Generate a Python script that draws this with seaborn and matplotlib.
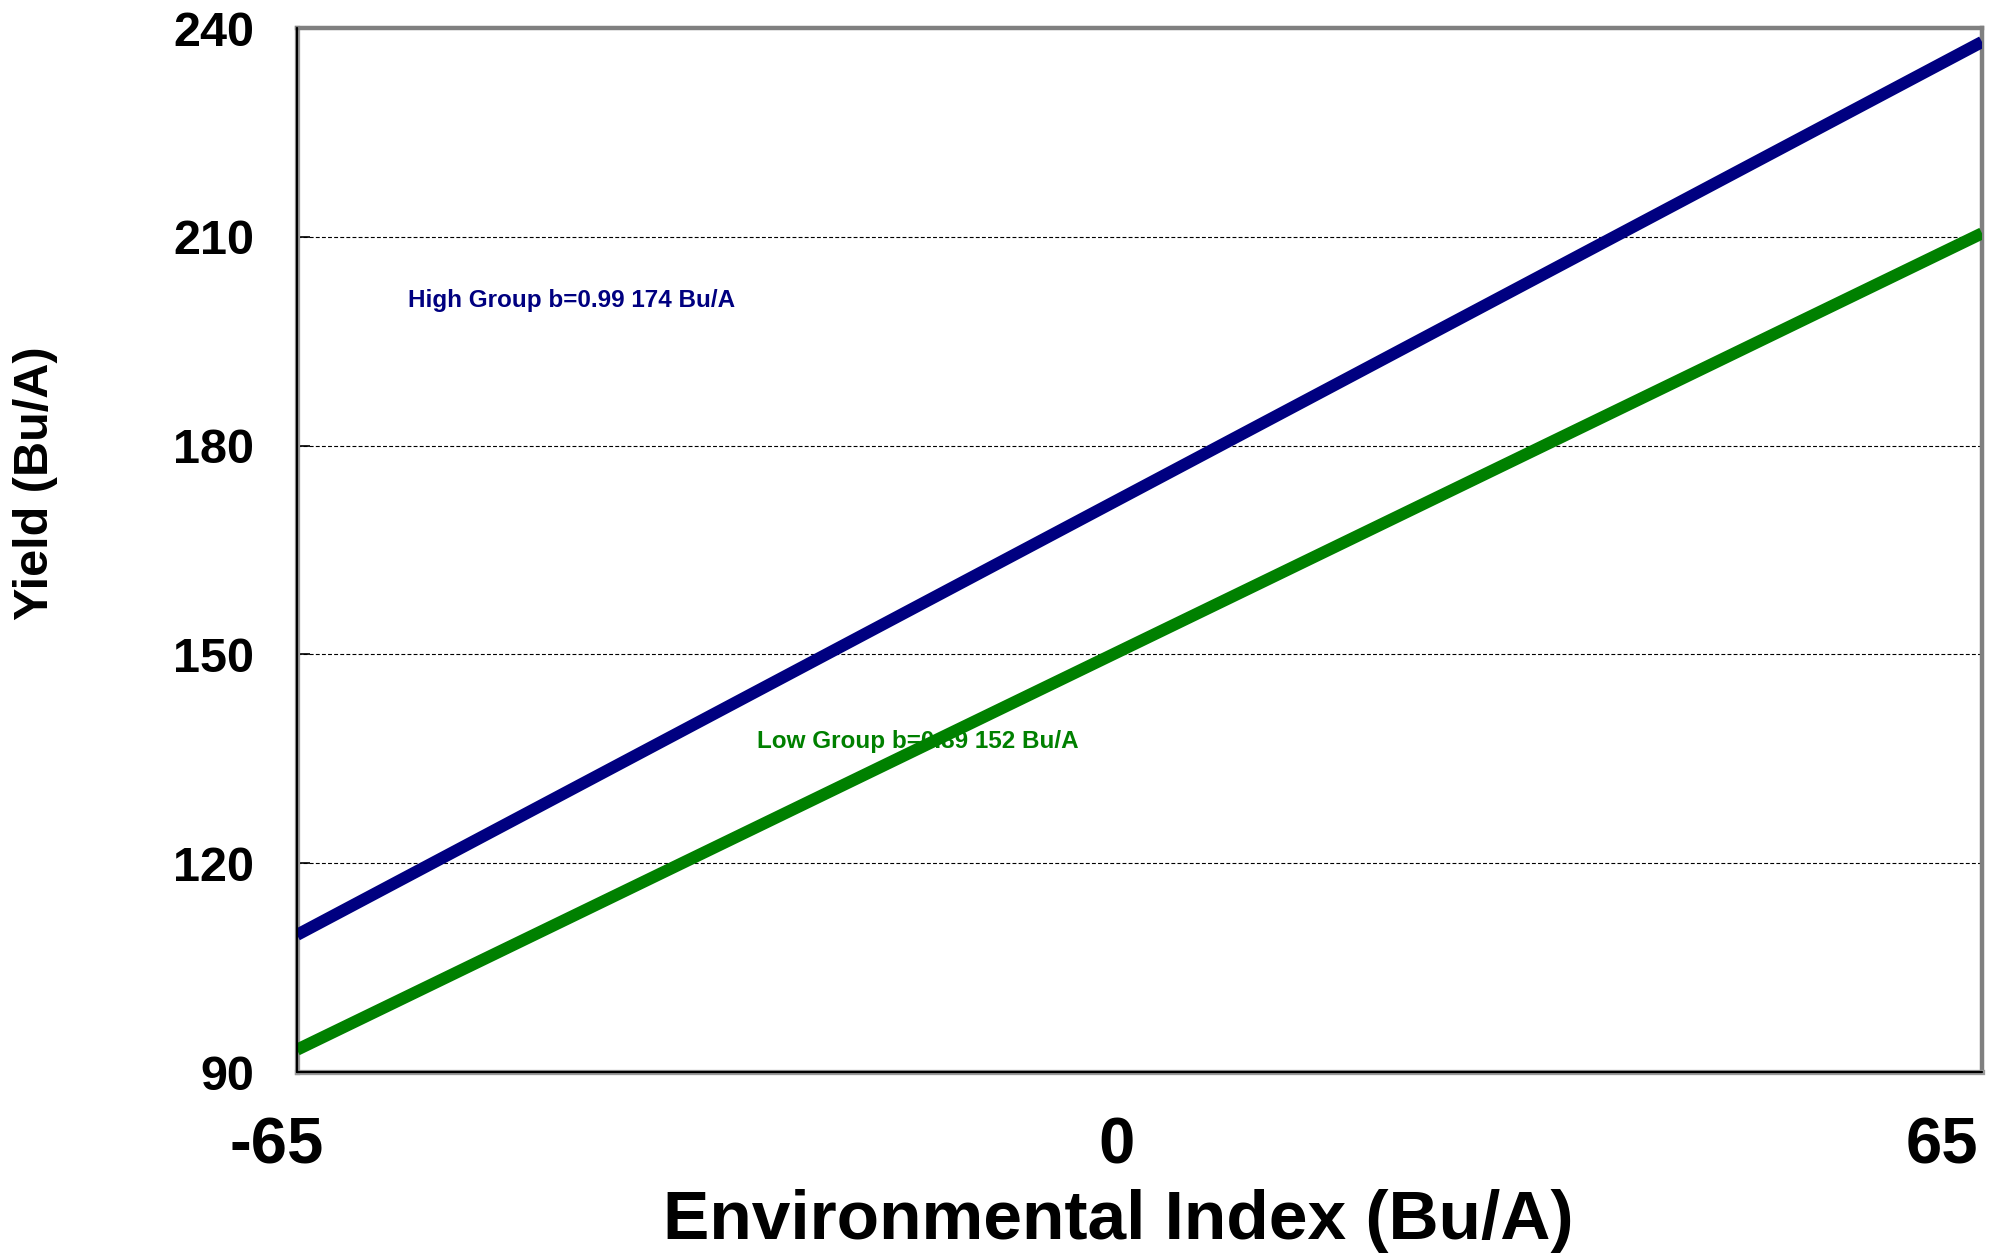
import matplotlib
matplotlib.use("Agg")
import matplotlib.pyplot as plt
import matplotlib.transforms as mtransforms
import seaborn as sns
import pandas as pd

# ---- data ----
env_index = [-65, 65]
high_group = [109.7, 238.0]
low_group = [93.2, 210.5]
series_names = ["High Group", "Low Group"]
high_label = "High Group b=0.99 174 Bu/A"
low_label = "Low Group b=0.89 152 Bu/A"
x_ticks = [-65, 0, 65]
y_ticks = [90, 120, 150, 180, 210, 240]

df = pd.DataFrame({
    "x": env_index * 2,
    "y": high_group + low_group,
    "group": [series_names[0]] * len(env_index) + [series_names[1]] * len(env_index),
})

sns.set_theme(style="white")
plt.rcParams["font.family"] = ["Liberation Sans", "DejaVu Sans"]
plt.rcParams["font.weight"] = "bold"
plt.rcParams["text.color"] = "black"
plt.rcParams["xtick.color"] = "black"
plt.rcParams["ytick.color"] = "black"
plt.rcParams["axes.labelcolor"] = "black"

fig = plt.figure(figsize=(19.94, 12.55), dpi=100)
ax = fig.add_axes([297 / 1994, 1 - 1072 / 1255, (1982 - 297) / 1994, (1072 - 28) / 1255])

navy = "#000080"
green = "#008000"

sns.lineplot(data=df, x="x", y="y", hue="group", palette=[navy, green],
             linewidth=8.7, legend=False, ax=ax, zorder=3)
for ln in ax.get_lines():
    ln.set_solid_capstyle("butt")

ax.set_xlim(-65, 65)
ax.set_ylim(90, 240)
ax.set_xticks(x_ticks)
ax.set_yticks(y_ticks)
ax.set_xticklabels([str(t) for t in x_ticks], fontsize=47, fontweight="bold", color="black")
ax.set_yticklabels([str(t) for t in y_ticks], fontsize=35, fontweight="bold", color="black")

ax.tick_params(axis="y", direction="in", length=9, width=1.2, color="black", pad=31, left=True, right=False)
ax.tick_params(axis="x", direction="in", length=0, width=1.2, color="black", pad=32, bottom=True, top=False)

# x tick label offsets (styling)
offsets_px = [-20, -23, -40]
for lab, off in zip(ax.get_xticklabels(), offsets_px):
    lab.set_transform(lab.get_transform() + mtransforms.ScaledTranslation(off / 100, 0, fig.dpi_scale_trans))

# grid
for yv in y_ticks[1:-1]:
    ax.axhline(yv, color="black", linewidth=0.8, linestyle=(0, (3.5, 2)), zorder=1)

# spines
for side in ["top", "right"]:
    ax.spines[side].set_color("#808080")
    ax.spines[side].set_linewidth(3.2)
for side in ["left", "bottom"]:
    ax.spines[side].set_color("#9a9a9a")
    ax.spines[side].set_linewidth(3.8)
ax.axvline(-65, color="black", linewidth=1.6, zorder=4, clip_on=False)
ax.axhline(90, color="black", linewidth=1.6, zorder=4, clip_on=False)

# annotations (under the lines)
ax.text(-56.4, 199.9, high_label, color=navy, fontsize=17.5, fontweight="bold",
        ha="left", va="baseline", zorder=2)
ax.text(-29.5, 136.5, low_label, color=green, fontsize=17.5, fontweight="bold",
        ha="left", va="baseline", zorder=2)

ax.set_xlabel("")
ax.set_ylabel("")
fig.text(1118 / 1994, 1 - 1221 / 1255, "Environmental Index (Bu/A)", fontsize=50,
         fontweight="bold", ha="center", va="center", color="black")
fig.text(35 / 1994, 1 - 483 / 1255, "Yield (Bu/A)", fontsize=35, fontweight="bold",
         ha="center", va="center", rotation=90, color="black")

fig.savefig("out.png", dpi=100)
